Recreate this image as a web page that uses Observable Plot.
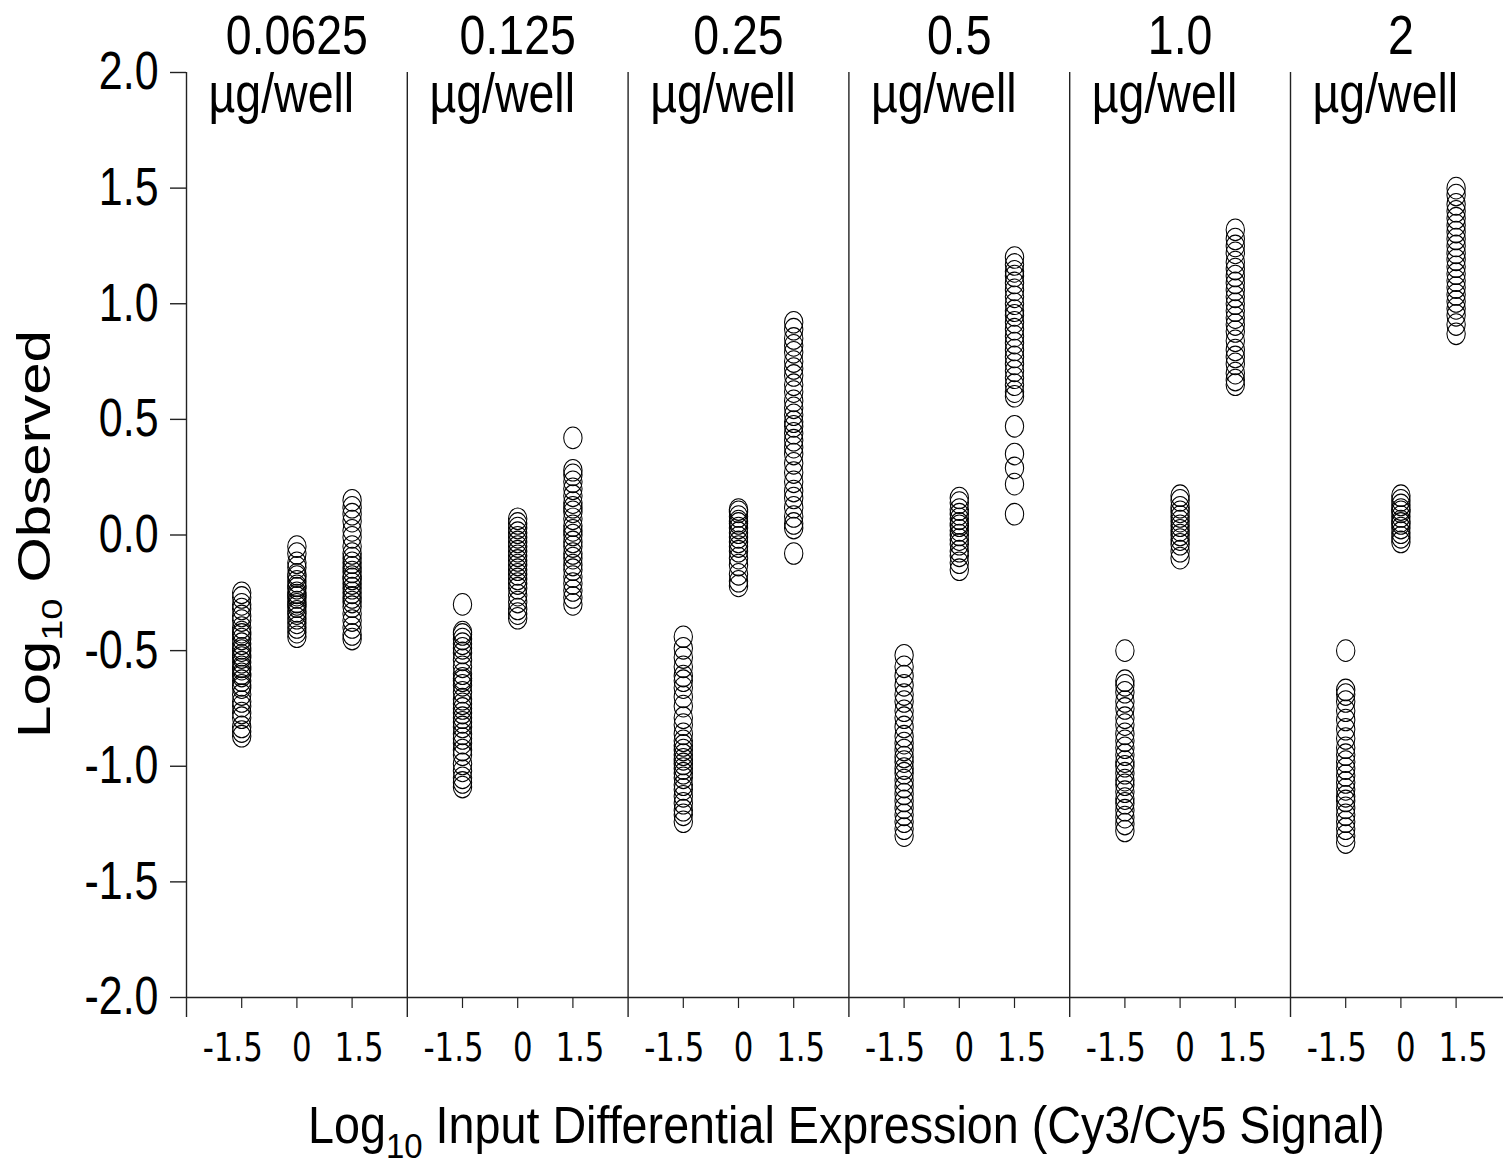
<!DOCTYPE html>
<html><head><meta charset="utf-8">
<script src="https://cdn.jsdelivr.net/npm/d3@7"></script>
<script src="https://cdn.jsdelivr.net/npm/@observablehq/plot@0.6"></script>
<style>
html,body{margin:0;padding:0;background:#fff;overflow:hidden;}
</style></head><body><div id="chart"></div>
<script>
// Doses (µg/well) — one panel each
const doses = ["0.0625", "0.125", "0.25", "0.5", "1.0", "2"];
// Log10 input differential expression columns within each panel
const inputs = [-1.5, 0, 1.5];
const yTicks = [-2, -1.5, -1, -0.5, 0, 0.5, 1, 1.5, 2];

// Log10 observed values, per dose and input
const d0625_m = [-0.25,-0.27,-0.30,-0.32,-0.35,-0.37,-0.40,-0.42,-0.43,-0.45,-0.47,-0.49,-0.50,-0.52,-0.53,-0.55,-0.57,-0.58,-0.60,-0.61,-0.63,-0.65,-0.66,-0.69,-0.72,-0.74,-0.77,-0.79,-0.83,-0.85,-0.87];
const d0625_z = [-0.05,-0.08,-0.12,-0.14,-0.17,-0.18,-0.20,-0.22,-0.23,-0.25,-0.26,-0.27,-0.29,-0.30,-0.31,-0.33,-0.34,-0.36,-0.38,-0.40,-0.42,-0.44];
const d0625_p = [0.15,0.12,0.09,0.06,0.02,-0.01,-0.05,-0.08,-0.10,-0.12,-0.14,-0.16,-0.18,-0.19,-0.21,-0.23,-0.25,-0.27,-0.29,-0.31,-0.34,-0.37,-0.40,-0.43,-0.45];

const d125_m = [-0.30,-0.42,-0.43,-0.45,-0.47,-0.49,-0.51,-0.54,-0.57,-0.60,-0.62,-0.63,-0.65,-0.68,-0.71,-0.73,-0.75,-0.77,-0.79,-0.81,-0.83,-0.86,-0.88,-0.90,-0.93,-0.95,-0.99,-1.02,-1.05,-1.07,-1.09];
const d125_z = [0.07,0.05,0.03,0.01,-0.01,-0.03,-0.05,-0.07,-0.09,-0.11,-0.13,-0.15,-0.17,-0.19,-0.21,-0.23,-0.26,-0.29,-0.32,-0.34,-0.36];
const d125_p = [0.42,0.28,0.26,0.23,0.20,0.17,0.14,0.12,0.10,0.07,0.04,0.02,0.00,-0.03,-0.05,-0.08,-0.10,-0.13,-0.15,-0.18,-0.21,-0.24,-0.27,-0.30];

const d25_m = [-0.44,-0.49,-0.53,-0.57,-0.61,-0.63,-0.66,-0.70,-0.74,-0.79,-0.82,-0.86,-0.89,-0.91,-0.93,-0.95,-0.97,-0.99,-1.01,-1.03,-1.05,-1.08,-1.10,-1.13,-1.16,-1.19,-1.21,-1.24];
const d25_z = [0.11,0.10,0.08,0.06,0.05,0.03,0.01,-0.01,-0.03,-0.05,-0.07,-0.10,-0.13,-0.17,-0.20,-0.22];
const d25_p = [0.92,0.89,0.85,0.82,0.79,0.75,0.72,0.69,0.65,0.62,0.58,0.55,0.52,0.49,0.47,0.44,0.41,0.38,0.35,0.31,0.27,0.23,0.19,0.16,0.12,0.08,0.05,0.03,-0.08];

const d5_m = [-0.52,-0.57,-0.61,-0.65,-0.69,-0.72,-0.76,-0.79,-0.83,-0.87,-0.90,-0.93,-0.96,-0.98,-1.01,-1.03,-1.06,-1.09,-1.12,-1.15,-1.18,-1.21,-1.24,-1.27,-1.30];
const d5_z = [0.16,0.14,0.11,0.09,0.07,0.05,0.04,0.02,0.00,-0.02,-0.04,-0.07,-0.09,-0.12,-0.15];
const d5_p = [1.20,1.17,1.14,1.12,1.09,1.06,1.03,1.00,0.97,0.95,0.92,0.89,0.86,0.83,0.80,0.77,0.74,0.71,0.68,0.65,0.62,0.60,0.47,0.35,0.29,0.22,0.09];

const d1_m = [-0.50,-0.63,-0.65,-0.68,-0.72,-0.75,-0.79,-0.82,-0.86,-0.89,-0.92,-0.95,-0.98,-1.00,-1.03,-1.06,-1.08,-1.11,-1.14,-1.16,-1.19,-1.22,-1.25,-1.28];
const d1_z = [0.17,0.15,0.12,0.10,0.08,0.06,0.04,0.02,0.00,-0.02,-0.04,-0.07,-0.10];
const d1_p = [1.32,1.28,1.25,1.22,1.18,1.15,1.12,1.09,1.06,1.03,1.00,0.97,0.94,0.91,0.88,0.84,0.80,0.77,0.74,0.70,0.67,0.65];

const d2_m = [-0.50,-0.67,-0.69,-0.72,-0.76,-0.80,-0.84,-0.88,-0.92,-0.95,-0.98,-1.01,-1.04,-1.07,-1.10,-1.13,-1.15,-1.18,-1.21,-1.24,-1.27,-1.30,-1.33];
const d2_z = [0.17,0.15,0.13,0.11,0.10,0.08,0.06,0.05,0.03,0.01,-0.01,-0.03];
const d2_p = [1.50,1.47,1.43,1.40,1.37,1.34,1.31,1.28,1.25,1.22,1.19,1.16,1.13,1.10,1.07,1.04,1.01,0.98,0.95,0.91,0.87];

const series = [
  [d0625_m, d0625_z, d0625_p],
  [d125_m, d125_z, d125_p],
  [d25_m, d25_z, d25_p],
  [d5_m, d5_z, d5_p],
  [d1_m, d1_z, d1_p],
  [d2_m, d2_z, d2_p]
];

const rows = [];
series.forEach((cols, i) => cols.forEach((vals, j) => vals.forEach(v =>
  rows.push({panel: i, dose: doses[i], input: inputs[j], observed: v}))));

const PW = 6; // x units per panel (input -3..3)
const xOf = (panel, input) => panel * PW + PW / 2 + input;
const panels = d3.range(doses.length);
const boundaries = panels.map(i => i * PW);
const colTicks = d3.cross(panels, inputs).map(([p, inp]) => xOf(p, inp));
const labelShift = [-9, 5, 7]; // small visual offsets of the tick labels, per column
const fmtInput = v => (v === 0 ? "0" : String(v));

const SANS = "'Liberation Sans', Arial, sans-serif";
const VERD = "'DejaVu Sans', Verdana, sans-serif";

// slightly tall ellipse marker (reference is vertically stretched)
const ellipse = {
  draw(ctx, size) {
    const r = Math.sqrt(size / Math.PI);
    const rx = r * 0.85, ry = r, k = 0.5523;
    ctx.moveTo(rx, 0);
    ctx.bezierCurveTo(rx, ry * k, rx * k, ry, 0, ry);
    ctx.bezierCurveTo(-rx * k, ry, -rx, ry * k, -rx, 0);
    ctx.bezierCurveTo(-rx, -ry * k, -rx * k, -ry, 0, -ry);
    ctx.bezierCurveTo(rx * k, -ry, rx, -ry * k, rx, 0);
    ctx.closePath();
  }
};

const plot = Plot.plot({
  width: 1503,
  height: 1168,
  marginLeft: 186,
  marginRight: 0,
  marginTop: 72,
  marginBottom: 171,
  x: {domain: [0, PW * doses.length], range: [186, 186 + 36 * 36.8]},
  y: {domain: [-2, 2]},
  style: {background: "white", color: "black", overflow: "hidden"},
  marks: [
    Plot.ruleX(boundaries, {y1: -2, y2: 2, stroke: "#222", strokeWidth: 1.4}),
    Plot.ruleY([-2], {stroke: "#222", strokeWidth: 1.4}),
    Plot.axisY({ticks: yTicks, tickFormat: d => d.toFixed(1), tickSize: 16, tickPadding: 12,
      fontSize: 53, fontFamily: SANS, label: null, stroke: "#222", strokeWidth: 1.4}),
    Plot.axisX({ticks: boundaries, tickSize: 20, tickFormat: () => "", label: null, stroke: "#222", strokeWidth: 1.4}),
    Plot.axisX({ticks: colTicks, tickSize: 11, tickFormat: () => "", label: null, stroke: "#222", strokeWidth: 1.2}),
    ...inputs.map((inp, j) => Plot.axisX({
      ticks: panels.map(p => xOf(p, inp)), tickSize: 0, tickPadding: 36, dx: labelShift[j],
      tickFormat: () => fmtInput(inp), label: null, fontSize: 39, fontFamily: VERD
    })),
    Plot.dot(rows, {x: d => xOf(d.panel, d.input), y: "observed", r: 10.8, symbol: ellipse,
      stroke: "black", strokeWidth: 1.05, fill: "none"}),
    Plot.text(doses, {x: (d, i) => xOf(i, 0), frameAnchor: "top", lineAnchor: "bottom", dy: -19,
      text: d => d, fontSize: 56, fontFamily: SANS}),
    Plot.text(doses, {x: (d, i) => i * PW + 0.6, frameAnchor: "top", lineAnchor: "bottom", dy: 39,
      text: () => "µg/well", textAnchor: "start", fontSize: 56, fontFamily: SANS})
  ]
});

document.getElementById("chart").appendChild(plot);

// horizontally condense text (reference uses a narrow face); scale about each text's anchor
function squish(nodes, k) {
  nodes.forEach(el => {
    const xa = el.getAttribute("x");
    const x = xa !== null && !isNaN(+xa) ? +xa : 0;
    if (xa !== null && !isNaN(+xa)) el.removeAttribute("x");
    const t = el.getAttribute("transform") || "";
    el.setAttribute("transform", `${t} translate(${x},0) scale(${k},1)`);
  });
}
squish(plot.querySelectorAll('g[aria-label="y-axis tick label"] text'), 0.81);
squish(plot.querySelectorAll('g[aria-label="x-axis tick label"] text'), 0.79);
squish(plot.querySelectorAll('g[aria-label="text"] text'), 0.83);

// Axis titles with subscripts
const svg = d3.select(plot);
const xl = svg.append("text")
  .attr("text-anchor", "start")
  .style("font-family", SANS).style("font-size", "51px").attr("fill", "black");
xl.append("tspan").text("Log");
xl.append("tspan").attr("dy", 15).style("font-size", "36px").text("10");
xl.append("tspan").attr("dy", -15).text(" Input Differential Expression (Cy3/Cy5 Signal)");
const xk = 1077 / xl.node().getComputedTextLength();
xl.attr("transform", `translate(308,1143) scale(${xk},1)`);

const yl = svg.append("text")
  .attr("text-anchor", "middle")
  .style("font-family", SANS).style("font-size", "46px").attr("fill", "black");
yl.append("tspan").text("Log");
yl.append("tspan").attr("dy", 12).style("font-size", "30px").text("10");
yl.append("tspan").attr("dy", -12).text(" Observed");
const yk = 408 / yl.node().getComputedTextLength();
yl.attr("transform", `translate(50,534) rotate(-90) scale(${yk},1)`);
</script>
</body></html>
